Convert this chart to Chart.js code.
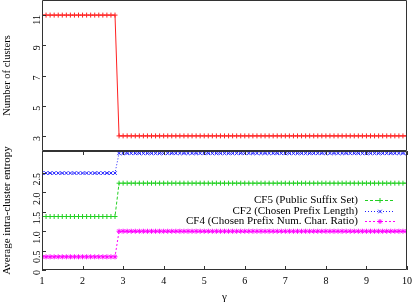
<!DOCTYPE html>
<html>
<head>
<meta charset="utf-8">
<script src="https://cdn.jsdelivr.net/npm/chart.js@4/dist/chart.umd.min.js"></script>
<style>
html,body{margin:0;padding:0;background:#fff;}
#wrap{position:relative;width:415px;height:302px;}
#top{position:absolute;left:0;top:0;}
#bot{position:absolute;left:0;top:131px;}
</style>
</head>
<body>
<div id="wrap">
<canvas id="top" width="415" height="151"></canvas>
<canvas id="bot" width="415" height="171"></canvas>
</div>
<script>
// ---- data ----
const gamma = [
 1.0,1.1,1.2,1.3,1.4,1.5,1.6,1.7,1.8,1.9,
 2.0,2.1,2.2,2.3,2.4,2.5,2.6,2.7,2.8,2.9,
 3.0,3.1,3.2,3.3,3.4,3.5,3.6,3.7,3.8,3.9,
 4.0,4.1,4.2,4.3,4.4,4.5,4.6,4.7,4.8,4.9,
 5.0,5.1,5.2,5.3,5.4,5.5,5.6,5.7,5.8,5.9,
 6.0,6.1,6.2,6.3,6.4,6.5,6.6,6.7,6.8,6.9,
 7.0,7.1,7.2,7.3,7.4,7.5,7.6,7.7,7.8,7.9,
 8.0,8.1,8.2,8.3,8.4,8.5,8.6,8.7,8.8,8.9,
 9.0,9.1,9.2,9.3,9.4,9.5,9.6,9.7,9.8,9.9,
 10.0];
const numClusters = [
 11,11,11,11,11,11,11,11,11,11,
 11,11,11,11,11,11,11,11,11,3,
 3,3,3,3,3,3,3,3,3,3,
 3,3,3,3,3,3,3,3,3,3,
 3,3,3,3,3,3,3,3,3,3,
 3,3,3,3,3,3,3,3,3,3,
 3,3,3,3,3,3,3,3,3,3,
 3,3,3,3,3,3,3,3,3,3,
 3,3,3,3,3,3,3,3,3,3,
 3];
const cf5 = [
 1.38,1.38,1.38,1.38,1.38,1.38,1.38,1.38,1.38,1.38,
 1.38,1.38,1.38,1.38,1.38,1.38,1.38,1.38,1.38,2.24,
 2.24,2.24,2.24,2.24,2.24,2.24,2.24,2.24,2.24,2.24,
 2.24,2.24,2.24,2.24,2.24,2.24,2.24,2.24,2.24,2.24,
 2.24,2.24,2.24,2.24,2.24,2.24,2.24,2.24,2.24,2.24,
 2.24,2.24,2.24,2.24,2.24,2.24,2.24,2.24,2.24,2.24,
 2.24,2.24,2.24,2.24,2.24,2.24,2.24,2.24,2.24,2.24,
 2.24,2.24,2.24,2.24,2.24,2.24,2.24,2.24,2.24,2.24,
 2.24,2.24,2.24,2.24,2.24,2.24,2.24,2.24,2.24,2.24,
 2.24];
const cf2 = [
 2.5,2.5,2.5,2.5,2.5,2.5,2.5,2.5,2.5,2.5,
 2.5,2.5,2.5,2.5,2.5,2.5,2.5,2.5,2.5,3.01,
 3.01,3.01,3.01,3.01,3.01,3.01,3.01,3.01,3.01,3.01,
 3.01,3.01,3.01,3.01,3.01,3.01,3.01,3.01,3.01,3.01,
 3.01,3.01,3.01,3.01,3.01,3.01,3.01,3.01,3.01,3.01,
 3.01,3.01,3.01,3.01,3.01,3.01,3.01,3.01,3.01,3.01,
 3.01,3.01,3.01,3.01,3.01,3.01,3.01,3.01,3.01,3.01,
 3.01,3.01,3.01,3.01,3.01,3.01,3.01,3.01,3.01,3.01,
 3.01,3.01,3.01,3.01,3.01,3.01,3.01,3.01,3.01,3.01,
 3.01];
const cf4 = [
 0.34,0.34,0.34,0.34,0.34,0.34,0.34,0.34,0.34,0.34,
 0.34,0.34,0.34,0.34,0.34,0.34,0.34,0.34,0.34,1.0,
 1.0,1.0,1.0,1.0,1.0,1.0,1.0,1.0,1.0,1.0,
 1.0,1.0,1.0,1.0,1.0,1.0,1.0,1.0,1.0,1.0,
 1.0,1.0,1.0,1.0,1.0,1.0,1.0,1.0,1.0,1.0,
 1.0,1.0,1.0,1.0,1.0,1.0,1.0,1.0,1.0,1.0,
 1.0,1.0,1.0,1.0,1.0,1.0,1.0,1.0,1.0,1.0,
 1.0,1.0,1.0,1.0,1.0,1.0,1.0,1.0,1.0,1.0,
 1.0,1.0,1.0,1.0,1.0,1.0,1.0,1.0,1.0,1.0,
 1.0];
const xTicks = [1,2,3,4,5,6,7,8,9,10];
const topYTicks = [3,5,7,9,11];
const botYTicks = [0,0.5,1,1.5,2,2.5];
const seriesLabels = ['CF5 (Public Suffix Set)','CF2 (Chosen Prefix Length)','CF4 (Chosen Prefix Num. Char. Ratio)'];
const topYTitle = 'Number of clusters';
const botYTitle = 'Average intra-cluster entropy';
const xTitle = 'γ';

// ---- helpers ----
const FONT = '"Liberation Serif", "Times New Roman", serif';
const pts = arr => gamma.map((g, i) => ({x: g, y: arr[i]}));
const noPad = s => { s.paddingTop = 0; s.paddingBottom = 0; s.paddingLeft = 0; s.paddingRight = 0; };

const frameTicks = {
  id: 'frameTicks',
  afterDatasetsDraw(chart, args, opts) {
    const {ctx, chartArea: a, scales} = chart;
    ctx.save();
    ctx.strokeStyle = '#333';
    ctx.lineWidth = 1;
    ctx.setLineDash([]);
    ctx.beginPath();
    ctx.rect(a.left + 0.5, a.top + 0.5, a.right - a.left - 1, a.bottom - a.top - 1);
    ctx.stroke();
    ctx.beginPath();
    const ys = scales.y;
    ys.ticks.forEach(t => {
      const p = Math.round(ys.getPixelForValue(t.value)) + 0.5;
      ctx.moveTo(a.left, p); ctx.lineTo(a.left + 4, p);
    });
    if (opts.xTicks) {
      const xs = scales.x;
      xs.ticks.forEach(t => {
        const p = Math.round(xs.getPixelForValue(t.value)) + 0.5;
        ctx.moveTo(p, a.bottom); ctx.lineTo(p, a.bottom - 4);
        ctx.moveTo(p, a.top); ctx.lineTo(p, a.top + 4);
      });
    }
    ctx.stroke();
    ctx.restore();
  }
};

const insideLegend = {
  id: 'insideLegend',
  afterDatasetsDraw(chart, args, opts) {
    if (!opts.show) return;
    const {ctx, chartArea: a} = chart;
    ctx.save();
    ctx.font = '11px ' + FONT;
    ctx.textAlign = 'right';
    ctx.textBaseline = 'middle';
    chart.data.datasets.forEach((ds, i) => {
      const y = Math.round(a.top + 49 + i * 10.5) + 0.5;
      ctx.fillStyle = '#000';
      ctx.fillText(ds.label, a.right - 49, y);
      ctx.strokeStyle = ds.borderColor;
      ctx.fillStyle = ds.borderColor;
      ctx.lineWidth = 1;
      ctx.setLineDash(ds.borderDash || []);
      ctx.beginPath();
      ctx.moveTo(a.right - 42, y);
      ctx.lineTo(a.right - 12, y);
      ctx.stroke();
      ctx.setLineDash([]);
      Chart.helpers.drawPoint(ctx, {pointStyle: ds.pointStyle, radius: ds.pointRadius, borderWidth: 1, rotation: 0}, a.right - 27, y);
    });
    ctx.restore();
  }
};

const baseDs = {borderWidth: 1, pointRadius: 2.5, pointBorderWidth: 1, tension: 0, fill: false};

// ---- top chart ----
new Chart(document.getElementById('top'), {
  type: 'line',
  data: {
    datasets: [Object.assign({}, baseDs, {
      label: topYTitle, data: pts(numClusters),
      borderColor: '#ff2020', backgroundColor: '#ff2020',
      pointStyle: 'cross'
    })]
  },
  plugins: [frameTicks, insideLegend],
  options: {
    animation: false, responsive: false, devicePixelRatio: 1,
    layout: {autoPadding: false, padding: {top: 0, right: 8, bottom: 0, left: 0}},
    plugins: {legend: {display: false}, tooltip: {enabled: false},
      frameTicks: {xTicks: false}, insideLegend: {show: false}},
    scales: {
      x: {type: 'linear', min: 1, max: 10, display: false},
      y: {
        type: 'linear', min: 2, max: 12,
        afterBuildTicks: s => { s.ticks = topYTicks.map(v => ({value: v})); },
        afterFit: s => { s.width = 42; noPad(s); },
        grid: {display: false, drawTicks: false},
        border: {display: false},
        ticks: {minRotation: 90, maxRotation: 90, padding: 5, color: '#000',
          font: {family: FONT, size: 10}},
        title: {display: true, text: topYTitle, color: '#000',
          font: {family: FONT, size: 10.5}, padding: {top: 1, bottom: 0}}
      }
    }
  }
});

// ---- bottom chart ----
new Chart(document.getElementById('bot'), {
  type: 'line',
  data: {
    datasets: [
      Object.assign({}, baseDs, {label: seriesLabels[0], data: pts(cf5),
        borderColor: '#22d022', backgroundColor: '#22d022', borderDash: [3, 2], pointStyle: 'cross'}),
      Object.assign({}, baseDs, {label: seriesLabels[1], data: pts(cf2),
        borderColor: '#2020ff', backgroundColor: '#2020ff', borderDash: [1, 2], pointStyle: 'crossRot'}),
      Object.assign({}, baseDs, {label: seriesLabels[2], data: pts(cf4),
        borderColor: '#ff00ff', backgroundColor: '#ff00ff', borderDash: [2, 2], pointStyle: 'star'})
    ]
  },
  plugins: [frameTicks, insideLegend],
  options: {
    animation: false, responsive: false, devicePixelRatio: 1,
    layout: {autoPadding: false, padding: {top: 20, right: 8, bottom: 0, left: 0}},
    plugins: {legend: {display: false}, tooltip: {enabled: false},
      frameTicks: {xTicks: true}, insideLegend: {show: true}},
    scales: {
      x: {
        type: 'linear', min: 1, max: 10,
        afterBuildTicks: s => { s.ticks = xTicks.map(v => ({value: v})); },
        afterFit: s => { s.height = 32; noPad(s); },
        grid: {display: false, drawTicks: false},
        border: {display: false},
        ticks: {maxRotation: 0, padding: 5, color: '#000', font: {family: FONT, size: 10}},
        title: {display: true, text: xTitle, color: '#000',
          font: {family: FONT, size: 11}, padding: {top: 0, bottom: -2}}
      },
      y: {
        type: 'linear', min: 0, max: 3.07,
        afterBuildTicks: s => { s.ticks = botYTicks.map(v => ({value: v})); },
        afterFit: s => { s.width = 42; noPad(s); },
        grid: {display: false, drawTicks: false},
        border: {display: false},
        ticks: {minRotation: 90, maxRotation: 90, padding: 5, color: '#000',
          font: {family: FONT, size: 10}},
        title: {display: true, text: botYTitle, color: '#000',
          font: {family: FONT, size: 11}, padding: {top: 1, bottom: 0}}
      }
    }
  }
});
</script>
</body>
</html>
